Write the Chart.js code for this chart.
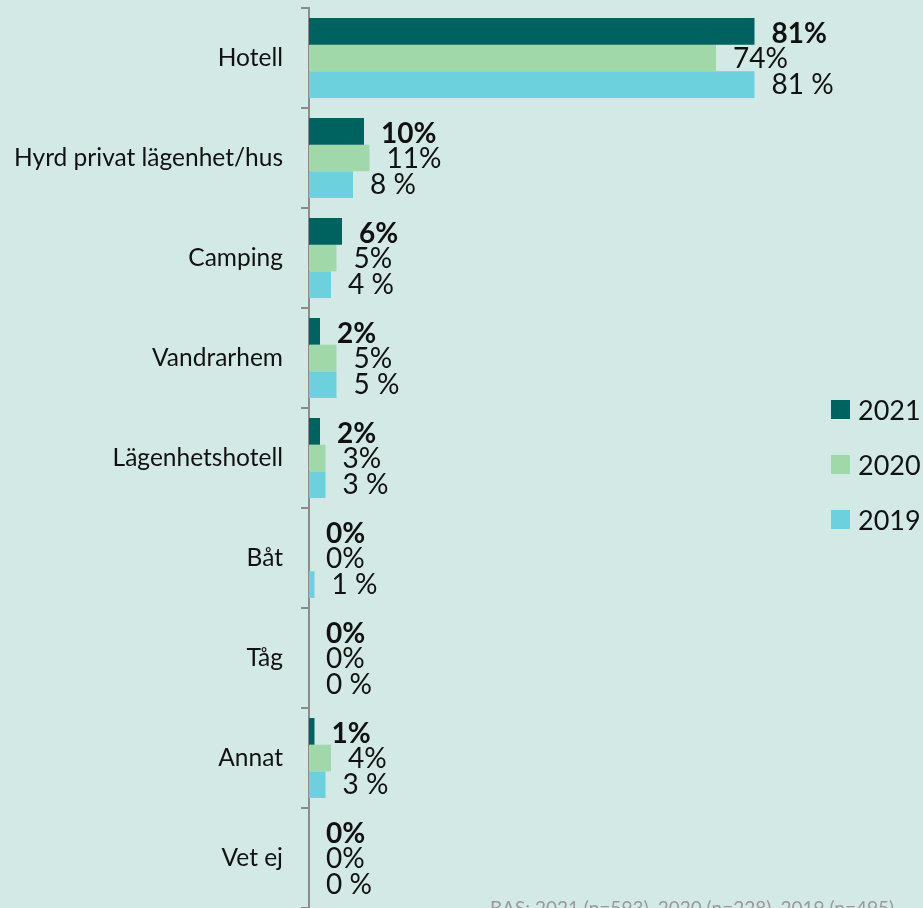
<!DOCTYPE html>
<html>
<head>
<meta charset="utf-8">
<script src="https://cdn.jsdelivr.net/npm/chart.js@4"></script>
<style>
    html, body { margin: 0; padding: 0; background: #d2e9e6; overflow: hidden; }
    #wrap { position: relative; width: 923px; height: 908px; }
    #chart { display: block; }
    #legend { position: absolute; left: 831px; top: 398px; font-family: Lato, sans-serif; font-size: 27px; color: #111; }
    .item { display: flex; align-items: center; height: 23px; margin-bottom: 32px; }
    .box { width: 19px; height: 19px; margin-right: 8px; }
    #source { position: absolute; left: 490px; top: 896px; font-family: Lato, sans-serif; font-size: 19px; color: #9a9a9a; white-space: nowrap; }
</style>
</head>
<body>
<div id="wrap">
    <canvas id="chart" width="923" height="908"></canvas>
    <div id="legend"></div>
    <div id="source">BAS: 2021 (n=593), 2020 (n=228), 2019 (n=495)</div>
</div>
<script>
const categories = ['Hotell', 'Hyrd privat lägenhet/hus', 'Camping', 'Vandrarhem', 'Lägenhetshotell', 'Båt', 'Tåg', 'Annat', 'Vet ej'];
const years = ['2021', '2020', '2019'];
const values2021 = [81, 10, 6, 2, 2, 0, 0, 1, 0];
const values2020 = [74, 11, 5, 5, 3, 0, 0, 4, 0];
const values2019 = [81, 8, 4, 5, 3, 1, 0, 3, 0];
const colors = ['#00625f', '#a0d8a9', '#6cd1dd'];

// label style per series: 2021 bold, 2019 has a space before %
const labelFormat = [v => v + '%', v => v + '%', v => v + ' %'];
const labelWeight = ['bold', 'normal', 'normal'];
const labelShift = [3, 1, 0];

const valueLabels = {
    id: 'valueLabels',
    afterDatasetsDraw(chart) {
        const ctx = chart.ctx;
        ctx.save();
        ctx.fillStyle = '#111';
        ctx.textBaseline = 'middle';
        ctx.textAlign = 'left';
        chart.data.datasets.forEach((ds, i) => {
            ctx.font = labelWeight[i] + ' 28px Lato, sans-serif';
            chart.getDatasetMeta(i).data.forEach((bar, j) => {
                ctx.fillText(labelFormat[i](ds.data[j]), bar.x + 17, bar.y + labelShift[i]);
            });
        });
        ctx.restore();
    }
};

new Chart(document.getElementById('chart'), {
    type: 'bar',
    data: {
        labels: categories,
        datasets: [
            { label: years[0], data: values2021, backgroundColor: colors[0] },
            { label: years[1], data: values2020, backgroundColor: colors[1] },
            { label: years[2], data: values2019, backgroundColor: colors[2] }
        ]
    },
    options: {
        indexAxis: 'y',
        responsive: false,
        animation: false,
        layout: { padding: { top: 8, right: 64, bottom: 0, left: 0 } },
        datasets: { bar: { categoryPercentage: 0.8, barPercentage: 1.0 } },
        plugins: {
            legend: { display: false },
            tooltip: { enabled: false }
        },
        scales: {
            x: { display: false, min: 0, max: 100 },
            y: {
                afterFit(scale) {
                    scale.width = 309;
                    scale.paddingTop = 0;
                    scale.paddingBottom = 0;
                },
                grid: { offset: true, drawOnChartArea: false, tickLength: 8, color: '#8c8c8c', lineWidth: 2 },
                border: { color: '#8c8c8c', width: 2 },
                ticks: { padding: 18, color: '#111', font: { family: 'Lato', size: 24.5 } }
            }
        }
    },
    plugins: [valueLabels]
});

// legend on the right
const legend = document.getElementById('legend');
years.forEach((y, i) => {
    const item = document.createElement('div');
    item.className = 'item';
    item.innerHTML = `<div class="box" style="background:${colors[i]}"></div><span>${y}</span>`;
    legend.appendChild(item);
});
</script>
</body>
</html>
